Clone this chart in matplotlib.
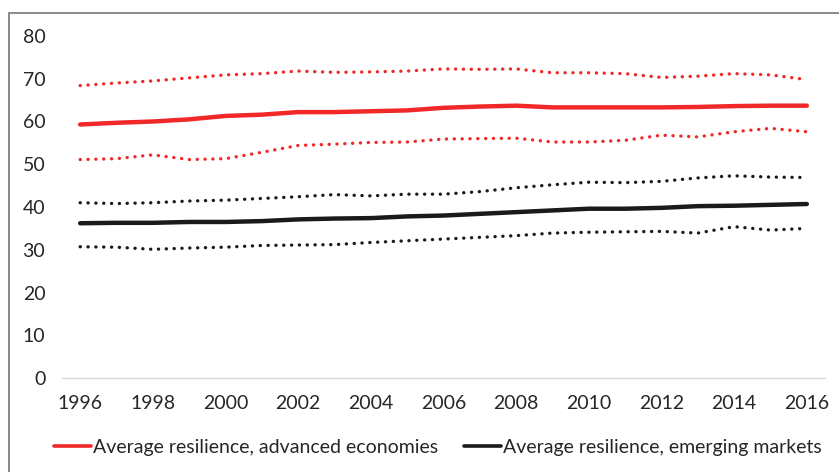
import matplotlib
matplotlib.use("Agg")
import matplotlib.pyplot as plt
from matplotlib.patches import Rectangle

years = list(range(1996, 2017))
adv_mean = [59.3, 59.7, 60.0, 60.5, 61.3, 61.6, 62.2, 62.2, 62.4, 62.6, 63.2,
            63.5, 63.7, 63.3, 63.3, 63.3, 63.3, 63.4, 63.6, 63.7, 63.7]
adv_upper = [68.4, 69.0, 69.5, 70.2, 70.9, 71.2, 71.8, 71.5, 71.6, 71.8, 72.3,
             72.2, 72.3, 71.4, 71.4, 71.2, 70.3, 70.6, 71.2, 70.9, 69.8]
adv_lower = [51.1, 51.3, 52.2, 51.1, 51.3, 52.8, 54.4, 54.7, 55.1, 55.2, 55.9,
             56.0, 56.1, 55.2, 55.2, 55.6, 56.8, 56.4, 57.6, 58.4, 57.6]
em_upper = [41.0, 40.8, 41.0, 41.4, 41.6, 42.0, 42.4, 42.9, 42.6, 43.0, 43.0,
            43.6, 44.5, 45.2, 45.8, 45.7, 46.0, 46.8, 47.3, 47.0, 46.9]
em_mean = [36.2, 36.3, 36.3, 36.5, 36.5, 36.7, 37.1, 37.3, 37.4, 37.8, 38.0,
           38.4, 38.8, 39.2, 39.6, 39.6, 39.8, 40.2, 40.3, 40.5, 40.7]
em_lower = [30.7, 30.6, 30.1, 30.4, 30.6, 31.0, 31.1, 31.2, 31.7, 32.1, 32.5,
            32.9, 33.3, 33.9, 34.1, 34.2, 34.3, 33.9, 35.4, 34.6, 35.0]
xtick_labels = [str(y) for y in range(1996, 2017, 2)]
yticks = list(range(0, 81, 10))
legend_labels = ["Average resilience, advanced economies",
                 "Average resilience, emerging markets"]

plt.rcParams['font.family'] = ['Lato', 'DejaVu Sans']

W, H = 839, 472
fig = plt.figure(figsize=(W / 100, H / 100), dpi=100)
fig.patch.set_facecolor('white')

# outer frame
fig.add_artist(Rectangle((9 / W, -0.1), 1.2, (H - 13) / H + 0.1,
                         transform=fig.transFigure, fill=False,
                         edgecolor='#808080', linewidth=1.3))

ax = fig.add_axes([62 / W, 1 - 378 / H, (825 - 62) / W, (378 - 36) / H])

RED = '#F02828'
BLACK = '#1A1A1A'
dot = dict(linestyle=(0, (0.05, 2.3)), dash_capstyle='round', linewidth=2.4)

ax.plot(years, adv_upper, color=RED, **dot)
ax.plot(years, adv_lower, color=RED, **dot)
ax.plot(years, em_upper, color=BLACK, **dot)
ax.plot(years, em_lower, color=BLACK, **dot)
l1, = ax.plot(years, adv_mean, color=RED, linewidth=3.2, solid_capstyle='round')
l2, = ax.plot(years, em_mean, color=BLACK, linewidth=3.2, solid_capstyle='round')

ax.set_xlim(1995.5, 2016.5)
ax.set_ylim(0, 80)
ax.set_xticks(list(range(1996, 2017, 2)))
ax.set_xticklabels(xtick_labels)
ax.set_yticks(yticks)
for s in ['top', 'right', 'left']:
    ax.spines[s].set_visible(False)
ax.spines['bottom'].set_color('#D9D9D9')
ax.spines['bottom'].set_linewidth(1.0)
ax.tick_params(axis='both', length=0, labelsize=14, colors='#262626')
ax.tick_params(axis='x', pad=12)
ax.tick_params(axis='y', pad=12)

leg = fig.legend([l1, l2], legend_labels, loc='center left',
                 bbox_to_anchor=(54 / W, 1 - 447 / H), ncol=2, frameon=False,
                 fontsize=14, handlelength=1.9, handletextpad=0.12,
                 columnspacing=1.3, borderaxespad=0, borderpad=0)
for t in leg.get_texts():
    t.set_color('#262626')
for h in leg.legend_handles:
    h.set_linewidth(2.6)

fig.savefig('out.png', dpi=100, facecolor='white')
